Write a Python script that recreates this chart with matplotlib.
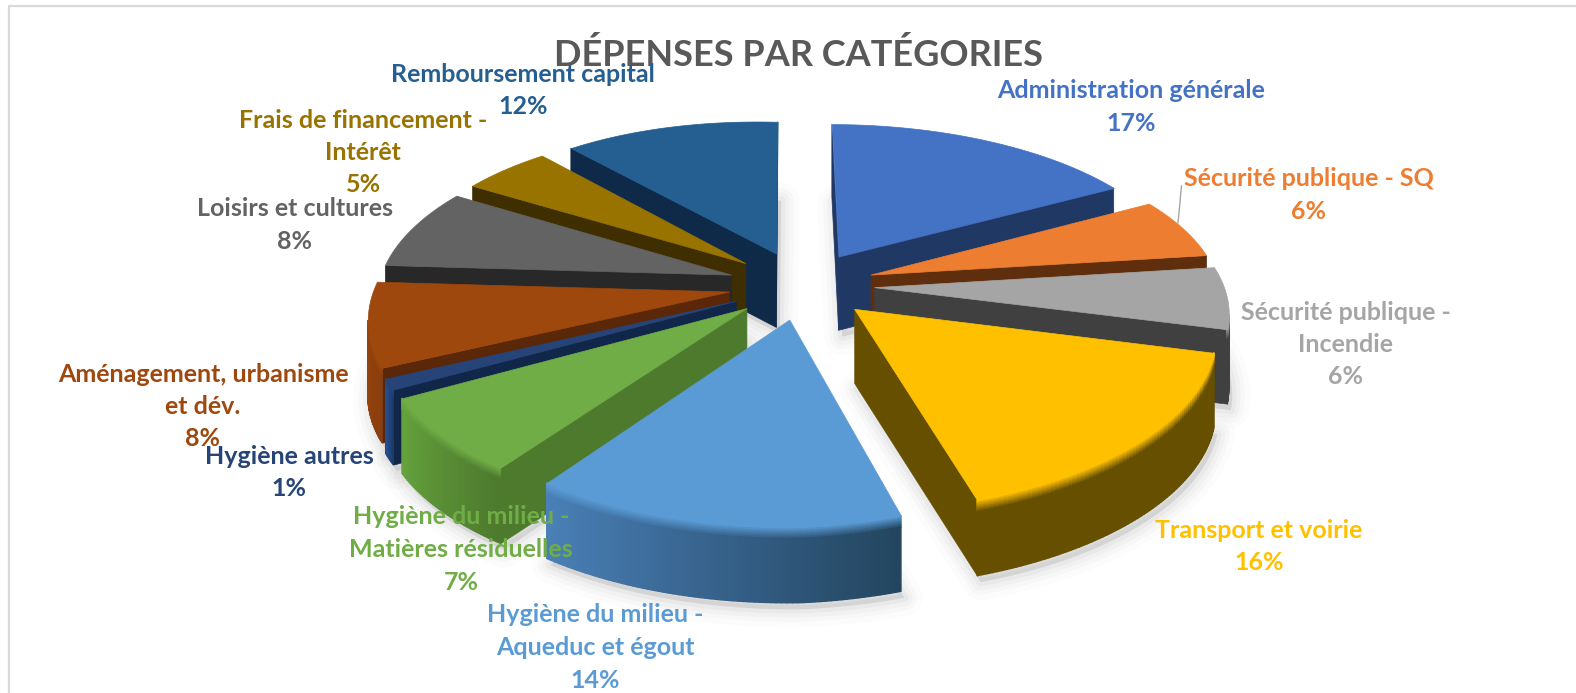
import numpy as np
import matplotlib
matplotlib.use("Agg")
import matplotlib.pyplot as plt
from matplotlib.collections import PolyCollection
from matplotlib.colors import to_rgb

# ---- data ----
categories = ["Administration générale", "Sécurité publique - SQ", "Sécurité publique -\nIncendie",
              "Transport et voirie", "Hygiène du milieu -\nAqueduc et égout",
              "Hygiène du milieu -\nMatières résiduelles", "Hygiène autres",
              "Aménagement, urbanisme\net dév.", "Loisirs et cultures",
              "Frais de financement -\nIntérêt", "Remboursement capital"]
values = [17, 6, 6, 16, 14, 7, 1, 8, 8, 5, 12]

# ---- styles ----
top_colors = ["#4472C4", "#ED7D31", "#A5A5A5", "#FFC000", "#5B9BD5", "#70AD47",
              "#264478", "#9E480E", "#636363", "#997300", "#255E91"]
label_colors = top_colors
cut_colors = ["#203864", "#5F2E0C", "#404040", "#665000", "#2F5478", "#4E7A2E",
              "#10274A", "#5A2808", "#282828", "#3F2F00", "#0F2A48"]
wall_left = ["#203864", "#5F2E0C", "#404040", "#665000", "#4A80B8", "#64A23C",
             "#264E8C", "#9E480E", "#282828", "#3F2F00", "#0F2A48"]
wall_right = ["#203864", "#5F2E0C", "#404040", "#665000", "#23455F", "#4E7A2E",
              "#1B3A6A", "#8A3E0C", "#282828", "#3F2F00", "#0F2A48"]
label_pos = [(1131, 91), (1309, 179), (1346, 312), (1259, 530), (595, 615),
             (461, 517), (289, 456), (203, 374), (295, 209), (363, 120), (523, 74)]
LINE_STEP = 32.5
FONT = "Lato"
LABEL_SIZE = 18

# ---- projection of the tilted, exploded pie ----
CX, CY, R, A, K, SKEW, EXPL, HEIGHT = 801, 285, 349, 162, 0.16, 9, 0.21, 74
BOW, LEFT_LIFT = 8, 0.028


def project(xg, yg):
    s = 1.0 / (1.0 + K * yg)
    X = CX + R * xg * s + SKEW * yg - BOW * yg ** 2
    Y = CY - A * yg * s - LEFT_LIFT * np.maximum(0, CX - X)
    return X, Y


def wall_height(yg):
    return HEIGHT * (1.0 - 0.02 * yg)


fig = plt.figure(figsize=(15.76, 6.93), dpi=100, facecolor="white")
ax = fig.add_axes([0, 0, 1, 1])
ax.set_xlim(0, 1576)
ax.set_ylim(693, 0)
ax.axis("off")

# frame
ax.plot([9, 9, 1576], [693, 6, 6], color="#D9D9D9", lw=1.6, zorder=0)

fractions = np.array(values, dtype=float) / sum(values)
edges = np.concatenate([[0], np.cumsum(fractions)]) * 2 * np.pi


def mix(c1, c2, t):
    a, b = np.array(to_rgb(c1)), np.array(to_rgb(c2))
    return tuple(a + (b - a) * t)


slices = []
for i in range(len(values)):
    t0, t1 = edges[i], edges[i + 1]
    mid = 0.5 * (t0 + t1)
    ex, ey = EXPL * np.sin(mid), EXPL * np.cos(mid)
    th = np.linspace(t0, t1, max(6, int(values[i] * 5)))
    xg = np.concatenate([[ex], ex + np.sin(th)])
    yg = np.concatenate([[ey], ey + np.cos(th)])
    X, Y = project(xg, yg)
    H = wall_height(yg)
    slices.append((i, mid, X, Y, H))

# soft shadow below all slices
for i, mid, X, Y, H in slices:
    base = np.column_stack([X + 3, Y + H + 6])
    for lw, al in [(26, 0.012), (18, 0.018), (12, 0.025), (6, 0.03)]:
        ax.add_collection(PolyCollection([base], facecolors=(0, 0, 0, al),
                                         edgecolors=(0, 0, 0, al), linewidths=lw,
                                         joinstyle="round", zorder=1))

# back slices first
z = 2
BANDS = [0.0, 0.025, 0.05, 0.075, 0.1, 0.125, 0.15, 1.0]
for i, mid, X, Y, H in sorted(slices, key=lambda s: -np.cos(s[1])):
    n = len(X)
    radial_polys, radial_cols, polys, cols = [], [], [], []
    for j in range(n):
        k = (j + 1) % n
        ax_, ay_, bx_, by_ = X[j], Y[j], X[k], Y[k]
        quad = np.array([[ax_, ay_], [bx_, by_], [bx_, by_ + H[k]], [ax_, ay_ + H[j]]])
        x_, y_ = quad[:, 0], quad[:, 1]
        area = np.sum(x_ * np.roll(y_, -1) - np.roll(x_, -1) * y_)
        if area >= 0:
            continue
        if (j == 0) or (k == 0):
            radial_polys.append(quad)
            radial_cols.append(to_rgb(cut_colors[i]))
        else:
            t = 1 - (j - 1) / max(1, n - 3)   # arc runs right to left at the front
            wc = mix(wall_left[i], wall_right[i], t)
            for b0, b1 in zip(BANDS[:-1], BANDS[1:]):
                polys.append(np.array([[ax_, ay_ + b0 * H[j]], [bx_, by_ + b0 * H[k]],
                                       [bx_, by_ + b1 * H[k]], [ax_, ay_ + b1 * H[j]]]))
                cols.append(mix(top_colors[i], wc, min(1, b0 / 0.15)))
    if radial_polys:
        ax.add_collection(PolyCollection(radial_polys, facecolors=radial_cols,
                                         edgecolors=radial_cols, linewidths=0.5, zorder=z))
    z += 1
    if polys:
        ax.add_collection(PolyCollection(polys, facecolors=cols, edgecolors=cols,
                                         linewidths=1.0, zorder=z))
    z += 1
    ax.add_collection(PolyCollection([np.column_stack([X, Y])], facecolors=[top_colors[i]],
                                     edgecolors=[top_colors[i]], linewidths=0.5, zorder=z))
    z += 1

# leader line
ax.plot([1181.5, 1178], [186, 223], color="#A6A6A6", lw=1, zorder=z)
z += 1

ax.text(799, 55, "DÉPENSES PAR CATÉGORIES", ha="center", va="center", color="#595959",
        fontsize=26, fontweight="bold", family=FONT, zorder=z)
z += 1
for name, v, c, (lx, ly) in zip(categories, values, label_colors, label_pos):
    lines = name.split("\n") + [f"{v}%"]
    for n_, line in enumerate(lines):
        ax.text(lx, ly + n_ * LINE_STEP, line, ha="center", va="center", color=c,
                fontsize=LABEL_SIZE, fontweight="bold", family=FONT, zorder=z)

fig.savefig("out.png", dpi=100, facecolor="white")
